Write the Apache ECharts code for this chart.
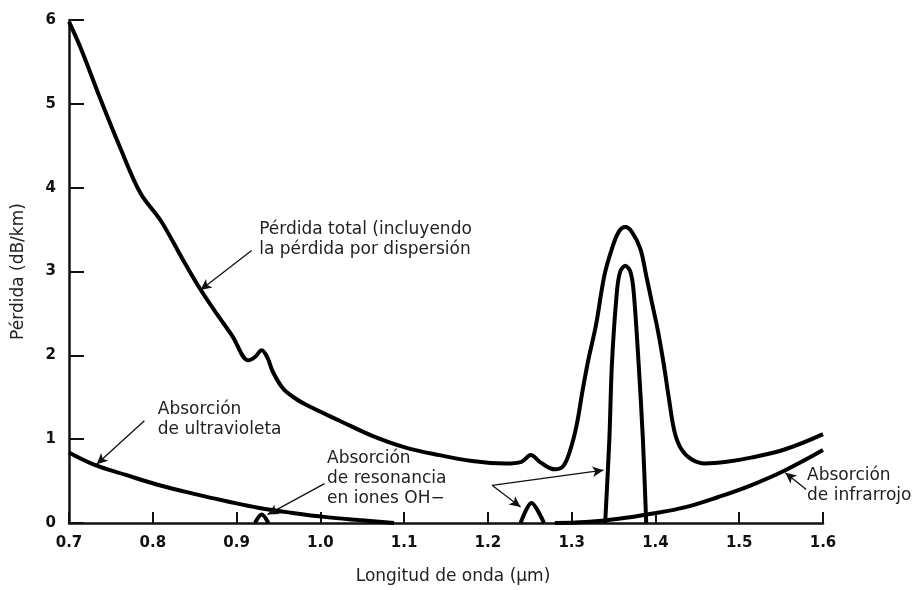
<!DOCTYPE html>
<html>
<head>
<meta charset="utf-8">
<script src="https://cdn.jsdelivr.net/npm/echarts@6/dist/echarts.min.js"></script>
<style>
  html, body { margin: 0; padding: 0; background: #fff; }
  #chart { width: 921px; height: 590px; }
</style>
</head>
<body>
<div id="chart"></div>
<script>
// pérdida total (incluye dispersión)
var totalX = [0.700, 0.715, 0.737, 0.761, 0.785, 0.810, 0.836, 0.856, 0.876, 0.895, 0.914, 0.922, 0.930, 0.937, 0.943, 0.955, 0.968, 0.983, 1.023, 1.062, 1.102, 1.142, 1.181, 1.221, 1.240, 1.251, 1.263, 1.280, 1.290, 1.298, 1.306, 1.313, 1.320, 1.329, 1.339, 1.348, 1.356, 1.364, 1.372, 1.382, 1.389, 1.396, 1.403, 1.410, 1.416, 1.423, 1.431, 1.443, 1.459, 1.485, 1.514, 1.555, 1.600];
var totalY = [5.98, 5.64, 5.07, 4.48, 3.94, 3.60, 3.14, 2.80, 2.50, 2.23, 1.94, 1.98, 2.06, 1.97, 1.81, 1.61, 1.50, 1.41, 1.22, 1.04, 0.90, 0.81, 0.74, 0.71, 0.73, 0.81, 0.72, 0.64, 0.68, 0.86, 1.17, 1.58, 1.95, 2.36, 2.95, 3.27, 3.47, 3.53, 3.47, 3.27, 2.95, 2.62, 2.29, 1.89, 1.49, 1.08, 0.88, 0.76, 0.71, 0.73, 0.78, 0.88, 1.06];

// absorción de ultravioleta
var uvX = [0.700, 0.729, 0.769, 0.808, 0.848, 0.888, 0.927, 0.967, 1.007, 1.046, 1.088];
var uvY = [0.84, 0.70, 0.57, 0.45, 0.35, 0.26, 0.18, 0.12, 0.07, 0.035, 0.0];

// absorción de infrarrojo
var irX = [1.280, 1.317, 1.356, 1.395, 1.436, 1.475, 1.514, 1.555, 1.600];
var irY = [0.0, 0.012, 0.05, 0.11, 0.19, 0.31, 0.45, 0.63, 0.87];

// resonancia OH- (tres picos, null = corte)
var ohX = [0.922, 0.930, 0.938, null, 1.239, 1.252, 1.267, null, 1.340, 1.345, 1.348, 1.354, 1.358, 1.364, 1.370, 1.374, 1.380, 1.385, 1.389];
var ohY = [0.0, 0.10, 0.0, null, 0.0, 0.24, 0.0, null, 0.0, 1.0, 1.89, 2.76, 3.0, 3.07, 3.0, 2.76, 1.89, 1.0, 0.0];

// textos y flechas
var notes = [
  { text: "Pérdida total (incluyendo\nla pérdida por dispersión", at: [0.927, 3.62] },
  { text: "Absorción\nde ultravioleta", at: [0.806, 1.47] },
  { text: "Absorción\nde resonancia\nen iones OH−", at: [1.008, 0.89] },
  { text: "Absorción\nde infrarrojo", at: [1.581, 0.68] }
];
var arrows = [
  [[0.918, 3.25], [0.857, 2.78]],
  [[0.790, 1.22], [0.733, 0.70]],
  [[1.005, 0.47], [0.937, 0.10]],
  [[1.205, 0.45], [1.239, 0.19]],
  [[1.205, 0.45], [1.338, 0.63]],
  [[1.580, 0.40], [1.555, 0.60]]
];

function pairs(xs, ys) {
  return xs.map(function (x, i) { return x === null ? [null, null] : [x, ys[i]]; });
}

var FONT = "DejaVu Sans";
var chart = echarts.init(document.getElementById("chart"));

var lineStyle = { color: "#000", width: 4 };

chart.setOption({
  animation: false,
  grid: { left: 69, right: 98, top: 20, bottom: 64 },
  xAxis: {
    type: "value",
    min: 0.7,
    max: 1.6,
    interval: 0.1,
    name: "Longitud de onda (μm)",
    nameLocation: "middle",
    nameGap: 45,
    nameTextStyle: { fontFamily: FONT, fontSize: 17, color: "#222", padding: [0, 0, 0, 14] },
    axisLine: { lineStyle: { color: "#111", width: 2.5 } },
    axisTick: { inside: true, length: 11, lineStyle: { color: "#111", width: 2 } },
    axisLabel: {
      fontFamily: FONT, fontWeight: "bold", fontSize: 15, color: "#111", margin: 13,
      formatter: function (v) { return v.toFixed(1); }
    },
    splitLine: { show: false }
  },
  yAxis: {
    type: "value",
    min: 0,
    max: 6,
    interval: 1,
    name: "Pérdida (dB/km)",
    nameLocation: "middle",
    nameGap: 42,
    nameTextStyle: { fontFamily: FONT, fontSize: 17, color: "#222" },
    axisLine: { show: true, lineStyle: { color: "#111", width: 2.5 } },
    axisTick: { show: true, inside: true, length: 15, lineStyle: { color: "#111", width: 2 } },
    axisLabel: { fontFamily: FONT, fontWeight: "bold", fontSize: 15, color: "#111", margin: 13 },
    splitLine: { show: false }
  },
  series: [
    {
      name: "total", type: "line", data: pairs(totalX, totalY),
      smooth: 0.35, showSymbol: false, lineStyle: lineStyle, silent: true,
      markLine: {
        silent: true,
        symbol: ["none", "arrow"],
        symbolSize: [8, 11],
        label: { show: false },
        lineStyle: { color: "#111", width: 1.3, type: "solid" },
        data: arrows.map(function (a) {
          return [{ coord: a[0] }, { coord: a[1] }];
        })
      }
    },
    {
      name: "uv", type: "line", data: pairs(uvX, uvY),
      smooth: 0.4, showSymbol: false, lineStyle: lineStyle, silent: true
    },
    {
      name: "ir", type: "line", data: pairs(irX, irY),
      smooth: 0.4, showSymbol: false, lineStyle: lineStyle, silent: true
    },
    {
      name: "oh", type: "line", data: pairs(ohX, ohY), connectNulls: false,
      smooth: 0.3, showSymbol: false, lineStyle: lineStyle, silent: true
    }
  ]
});

// etiquetas de texto colocadas en coordenadas de datos
var g = notes.map(function (n) {
  var p = chart.convertToPixel({ gridIndex: 0 }, n.at);
  return {
    type: "text",
    x: p[0],
    y: p[1],
    silent: true,
    style: {
      text: n.text,
      font: "17px '" + FONT + "'",
      fill: "#222",
      lineHeight: 20,
      verticalAlign: "top",
      align: "left"
    }
  };
});
chart.setOption({ graphic: g });
</script>
</body>
</html>
